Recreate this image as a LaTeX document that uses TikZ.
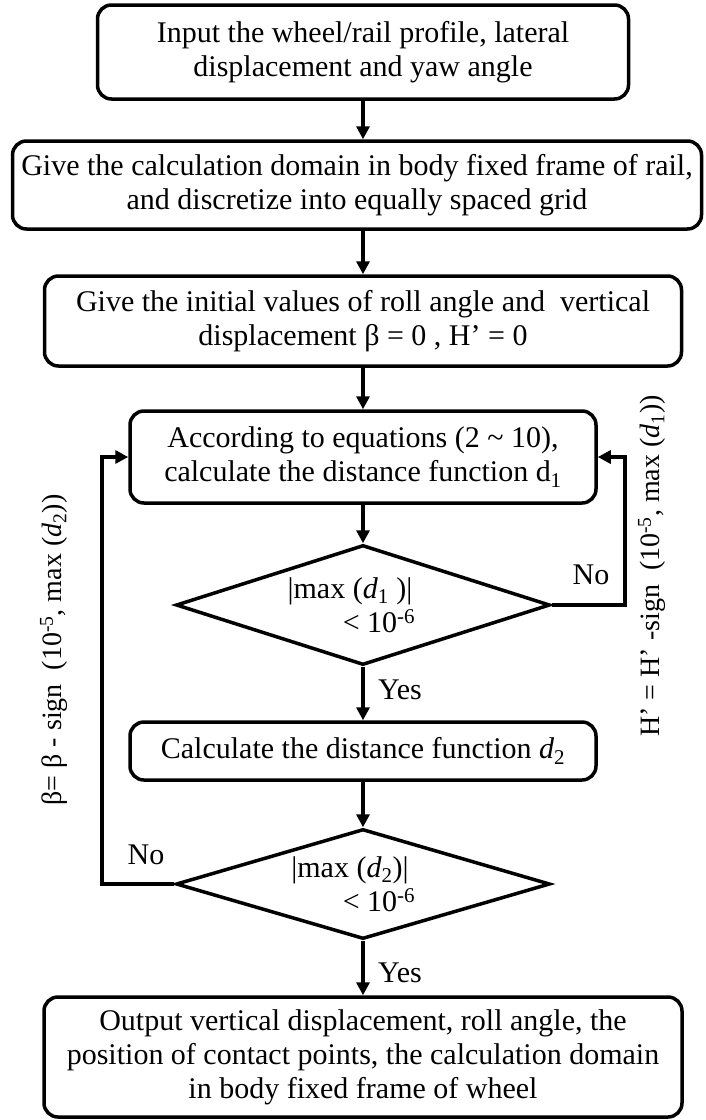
\documentclass[tikz,border=0pt]{standalone}
\usepackage{fontspec}
\setmainfont{Liberation Serif}
\usetikzlibrary{shapes.geometric,arrows.meta}

\begin{document}
\begin{tikzpicture}[x=1pt,y=-1pt,line width=3.5pt,
  font=\fontsize{30}{34}\selectfont,
  stepbox/.style={draw,rounded corners=14pt,align=center,inner sep=0pt},
  testbox/.style={draw,diamond,shape aspect=3,inner xsep=-30pt,inner ysep=-12pt,align=center,minimum width=374pt,minimum height=120pt},
  arr/.style={-{Triangle[length=13pt,width=13pt]}},
  lbl/.style={inner sep=0pt},
  sidelbl/.style={inner sep=0pt,rotate=90,font=\fontsize{28}{32}\selectfont}]
\useasboundingbox (0,0) rectangle (706,1120);
\node[stepbox,minimum width=531pt,minimum height=94pt] (input) at (363,52) {Input the wheel/rail profile, lateral\\displacement and yaw angle};
\node[stepbox,minimum width=689pt,minimum height=88pt] (grid) at (357,185) {Give the calculation domain in body fixed frame of rail,\\and discretize into equally spaced grid};
\node[stepbox,minimum width=637pt,minimum height=90pt] (init) at (363,321) {Give the initial values of roll angle and ~vertical\\displacement β = 0 , H’ = 0};
\node[stepbox,minimum width=466pt,minimum height=92pt] (dist1) at (363,457) {According to equations (2 \textasciitilde{} 10),\\calculate the distance function d\textsubscript{1}};
\node[testbox] (check1) at (363,605) {|max (\textit{d}\textsubscript{1} )|\hspace*{26pt}\\\hspace*{32pt}< 10\textsuperscript{-6}};
\node[stepbox,minimum width=466pt,minimum height=58pt] (dist2) at (363,751) {Calculate the distance function \textit{d}\textsubscript{2}};
\node[testbox,minimum height=110pt] (check2) at (363,884) {|max (\textit{d}\textsubscript{2})|\hspace*{26pt}\\\hspace*{32pt}< 10\textsuperscript{-6}};
\node[stepbox,minimum width=638pt,minimum height=120pt] (output) at (363,1057) {Output vertical displacement, roll angle, the\\position of contact points, the calculation domain\\in body fixed frame of wheel};
\coordinate (rloop) at (625,457);
\coordinate (lloop) at (102,457);
\draw[arr] (input) -- (input |- grid.north);
\draw[arr] (init.north |- grid.south) -- (init);
\draw[arr] (init) -- (dist1);
\draw[arr] (dist1) -- (check1);
\draw[arr] (check1) -- (dist2);
\draw[arr] (dist2) -- (check2);
\draw[arr] (check2) -- (output);
\draw[arr] (check1.east) -| (rloop) -- (dist1.east);
\draw[arr] (check2.west) -| (lloop) -- (dist1.west);
\node[lbl] (no1) at (591,575) {No};
\node[lbl] (yes1) at (400,690) {Yes};
\node[lbl] (no2) at (146,855) {No};
\node[lbl] (yes2) at (400,973) {Yes};
\node[sidelbl] (betaupd) at (54,650) {β= β - sign~ (10\textsuperscript{-5}, max (\textit{d}\textsubscript{2}))};
\node[sidelbl] (hupd) at (652,566) {H’ = H’ -sign~ (10\textsuperscript{-5}, max (\textit{d}\textsubscript{1}))};
\end{tikzpicture}
\end{document}
